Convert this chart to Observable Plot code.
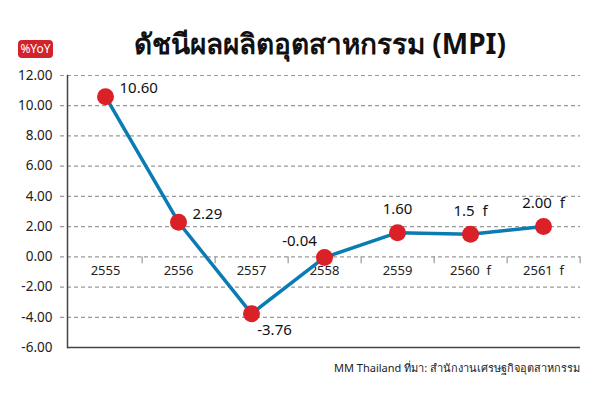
<!DOCTYPE html>
<html>
<head>
<meta charset="utf-8">
<script src="https://cdn.jsdelivr.net/npm/d3@7"></script>
<script src="https://cdn.jsdelivr.net/npm/@observablehq/plot@0.6"></script>
<style>
  body { margin: 0; background: #fff; font-family: "Noto Sans", "DejaVu Sans", sans-serif; }
  #wrap { position: relative; width: 601px; height: 400px; overflow: hidden; }
  #title { position: absolute; top: 22px; left: 0; width: 640px; text-align: center; font-size: 28px; font-weight: bold; color: #111; }
  #badge { position: absolute; left: 18px; top: 40px; width: 35px; height: 18px; background: #d0232a; color: #fff; border-radius: 4px; font-size: 12px; line-height: 18px; text-align: center; }
  #caption { position: absolute; right: 21px; top: 359px; font-size: 11px; color: #222; }
  #chart { position: absolute; left: 0; top: 0; }
</style>
</head>
<body>
<div id="wrap">
  <div id="chart"></div>
  <div id="title">ดัชนีผลผลิตอุตสาหกรรม (MPI)</div>
  <div id="badge">%YoY</div>
  <div id="caption">MM Thailand ที่มา: สำนักงานเศรษฐกิจอุตสาหกรรม</div>
</div>
<script>
const years = ["2555", "2556", "2557", "2558", "2559", "2560\u00a0\u00a0f", "2561\u00a0\u00a0f"];
const values = [10.60, 2.29, -3.76, -0.04, 1.60, 1.5, 2.00];
const valueLabels = ["10.60", "2.29", "-3.76", "-0.04", "1.60", "1.5\u00a0\u00a0f", "2.00\u00a0\u00a0f"];
const labelPlacement = ["right", "right", "below", "left", "above", "above", "above"];
const yTicks = [-6, -4, -2, 0, 2, 4, 6, 8, 10, 12];

const data = years.map((y, i) => ({year: y, value: values[i], label: valueLabels[i], place: labelPlacement[i]}));

const W = 601, H = 400, mL = 67, mR = 21, mT = 75, mB = 53;
const half = (W - mL - mR) / years.length / 2;
const font = "'Noto Sans', 'DejaVu Sans', sans-serif";
const fmt = d => (d < 0 ? "-" : "") + Math.abs(d).toFixed(2);

const chart = Plot.plot({
  width: W, height: H,
  marginLeft: mL, marginRight: mR, marginTop: mT, marginBottom: mB,
  style: {fontFamily: font, fontSize: "13px", color: "#222", background: "transparent"},
  x: {type: "point", domain: years, padding: 0.5, axis: null},
  y: {domain: [-6, 12], ticks: yTicks, tickFormat: fmt},
  marks: [
    Plot.ruleY(yTicks.filter(d => d > -6), {stroke: "#999", strokeDasharray: "4,3", strokeWidth: 1.2, insetLeft: -7}),
    Plot.axisY({ticks: yTicks, tickSize: 0, tickPadding: 15, fontSize: 13.5, label: null, tickFormat: fmt}),
    Plot.frame({anchor: "left", stroke: "#444", strokeWidth: 1.5}),
    Plot.ruleY([-6], {stroke: "#444", strokeWidth: 1.5}),
    Plot.ruleX(data, {x: "year", y1: 0, y2: -0.45, dx: half, stroke: "#999", strokeWidth: 1.2}),
    Plot.text(data, {x: "year", y: 0, text: "year", dy: 14, fontSize: 13, fill: "#222"}),
    Plot.line(data, {x: "year", y: "value", stroke: "#0b7bb3", strokeWidth: 3.5}),
    Plot.dot(data, {x: "year", y: "value", r: 8.5, fill: "#da2128", stroke: "none"}),
    Plot.text(data.filter(d => d.place === "right"), {x: "year", y: "value", text: "label", textAnchor: "start", dx: 14, dy: -8, fontSize: 15, fill: "#111"}),
    Plot.text(data.filter(d => d.place === "below"), {x: "year", y: "value", text: "label", dx: 23, dy: 17, fontSize: 15, fill: "#111"}),
    Plot.text(data.filter(d => d.place === "left"), {x: "year", y: "value", text: "label", dx: -25, dy: -16, fontSize: 15, fill: "#111"}),
    Plot.text(data.filter(d => d.place === "above"), {x: "year", y: "value", text: "label", dy: -23, fontSize: 15, fill: "#111"})
  ]
});
document.getElementById("chart").appendChild(chart);
</script>
</body>
</html>
